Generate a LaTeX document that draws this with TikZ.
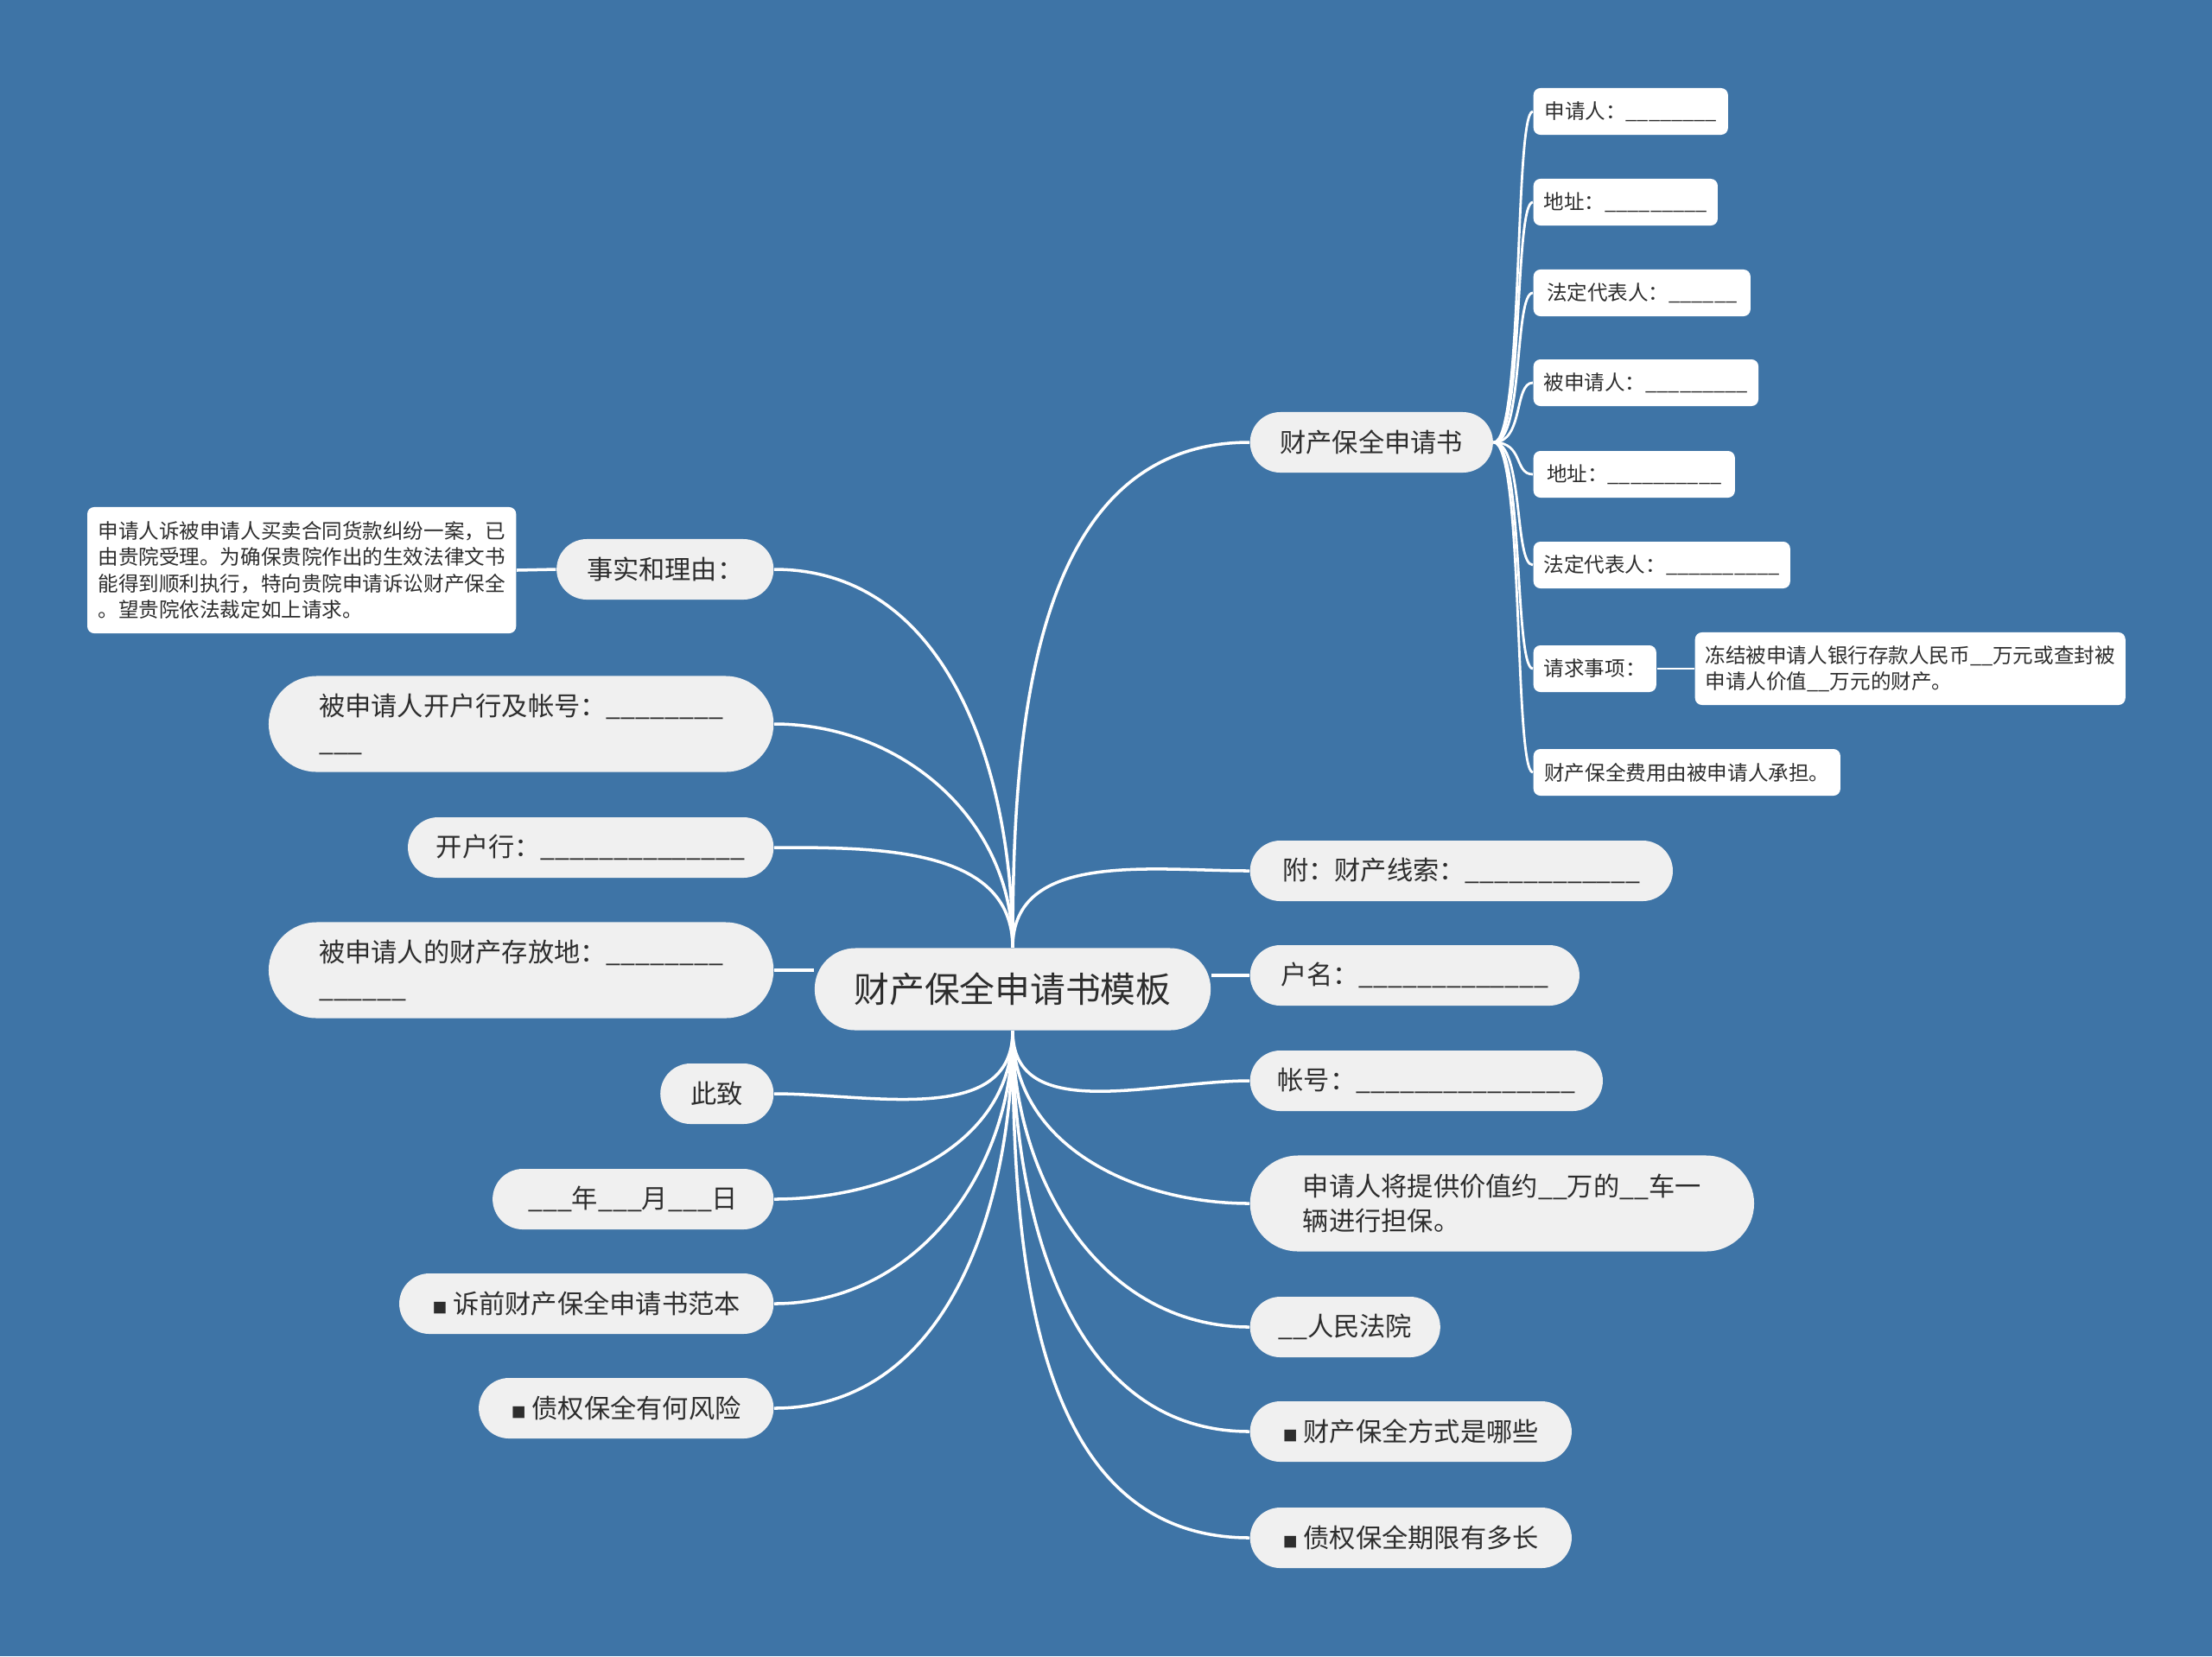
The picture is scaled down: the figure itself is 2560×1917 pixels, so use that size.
\documentclass[tikz,border=0pt]{standalone}
\usepackage{fontspec}
\setmainfont{Noto Sans CJK SC}
\usetikzlibrary{backgrounds}

\definecolor{board}{RGB}{62,116,166}
\definecolor{pill}{RGB}{240,240,240}
\definecolor{ink}{RGB}{45,45,45}

\newcommand{\rootfont}{\fontsize{11.6pt}{14pt}\selectfont}
\newcommand{\topicfont}{\fontsize{8.6pt}{11.6pt}\selectfont}
\newcommand{\itemfont}{\fontsize{6.7pt}{8.7pt}\selectfont}
\newcommand{\sqmark}{{\fontsize{4.8pt}{5pt}\selectfont ■}}

\begin{document}
\begin{tikzpicture}[
  x=0.01cm, y=-0.01cm,
  root/.style={fill=pill, text=ink, rounded corners=0.47cm, minimum height=0.95cm,
               minimum width=4.58cm, font=\rootfont},
  topic/.style={fill=pill, text=ink, rounded corners=0.35cm, minimum height=0.70cm,
                inner xsep=0.3cm, font=\topicfont},
  tall/.style={topic, rounded corners=0.555cm, minimum height=1.11cm, align=left},
  item/.style={fill=white, text=ink, rounded corners=0.08cm, minimum height=0.54cm,
               inner xsep=0.12cm, font=\itemfont},
  note/.style={item, align=left, inner ysep=0.1cm},
  link/.style={draw=white, line width=1pt},
  sublink/.style={draw=white, line width=0.8pt},
  ]

\useasboundingbox (0,0) rectangle (2560,1917);

% ---- Root ------------------------------------------------------------------
\node[root] (root) at (1172,1145) {财产保全申请书模板};

% ---- Right branches --------------------------------------------------------
\node[topic, anchor=west, minimum width=2.81cm] (fin)    at (1446,512)  {财产保全申请书};
\node[topic, anchor=west, minimum width=4.89cm] (clue)   at (1446,1008) {附：财产线索：\_\_\_\_\_\_\_\_\_\_\_\_};
\node[topic, anchor=west, minimum width=3.81cm] (holder) at (1446,1129) {户名：\_\_\_\_\_\_\_\_\_\_\_\_\_};
\node[topic, anchor=west, minimum width=4.08cm] (acct)   at (1446,1251) {帐号：\_\_\_\_\_\_\_\_\_\_\_\_\_\_\_};
\node[tall,  anchor=west, minimum width=5.83cm] (pledge) at (1446,1393) {申请人将提供价值约\_\_万的\_\_车一\\辆进行担保。};
\node[topic, anchor=west, minimum width=2.20cm] (court)  at (1446,1536) {\_\_人民法院};
\node[topic, anchor=west, minimum width=3.72cm] (ways)   at (1446,1657) {\sqmark\ 财产保全方式是哪些};
\node[topic, anchor=west, minimum width=3.72cm] (term)   at (1446,1780) {\sqmark\ 债权保全期限有多长};

% ---- Left branches ---------------------------------------------------------
\node[topic, anchor=east, minimum width=2.51cm] (fact)   at (896,659)  {事实和理由：};
\node[tall,  anchor=east, minimum width=5.84cm] (bank)   at (896,838)  {被申请人开户行及帐号：\_\_\_\_\_\_\_\_\\\_\_\_};
\node[topic, anchor=east, minimum width=4.23cm] (branch) at (896,981)  {开户行：\_\_\_\_\_\_\_\_\_\_\_\_\_\_};
\node[tall,  anchor=east, minimum width=5.84cm] (store)  at (896,1123) {被申请人的财产存放地：\_\_\_\_\_\_\_\_\\\_\_\_\_\_\_};
\node[topic, anchor=east, minimum width=1.31cm] (salute) at (896,1266) {此致};
\node[topic, anchor=east, minimum width=3.25cm] (date)   at (896,1388) {\_\_\_年\_\_\_月\_\_\_日};
\node[topic, anchor=east, minimum width=4.33cm] (sample) at (896,1509) {\sqmark\ 诉前财产保全申请书范本};
\node[topic, anchor=east, minimum width=3.41cm] (risk)   at (896,1630) {\sqmark\ 债权保全有何风险};

% ---- Facts text ------------------------------------------------------------
\node[note, anchor=east, minimum width=4.96cm, minimum height=1.46cm] (facttext) at (598,660)
  {申请人诉被申请人买卖合同货款纠纷一案，已\\由贵院受理。为确保贵院作出的生效法律文书\\能得到顺利执行，特向贵院申请诉讼财产保全\\。望贵院依法裁定如上请求。};

% ---- Application items -----------------------------------------------------
\node[item, anchor=west, minimum width=2.25cm] (applicant)  at (1774,129) {申请人：\_\_\_\_\_\_\_\_};
\node[item, anchor=west, minimum width=2.12cm] (addr1)      at (1774,234) {地址：\_\_\_\_\_\_\_\_\_};
\node[item, anchor=west, minimum width=2.51cm] (rep1)       at (1774,339) {法定代表人：\_\_\_\_\_\_};
\node[item, anchor=west, minimum width=2.59cm] (respondent) at (1774,443) {被申请人：\_\_\_\_\_\_\_\_\_};
\node[item, anchor=west, minimum width=2.33cm] (addr2)      at (1774,549) {地址：\_\_\_\_\_\_\_\_\_\_};
\node[item, anchor=west, minimum width=2.94cm] (rep2)       at (1774,654) {法定代表人：\_\_\_\_\_\_\_\_\_\_};
\node[item, anchor=west, minimum width=1.42cm] (claim)      at (1774,774) {请求事项：};
\node[note, anchor=west, minimum width=4.96cm, minimum height=0.84cm] (claimtext) at (1961,774)
  {冻结被申请人银行存款人民币\_\_万元或查封被\\申请人价值\_\_万元的财产。};
\node[item, anchor=west, minimum width=3.55cm] (fee)        at (1774,894) {财产保全费用由被申请人承担。};

% ---- Connectors ------------------------------------------------------------
\begin{scope}[on background layer]
  \fill[board] (0,0) rectangle (2560,1917);
  \foreach \n in {fin,clue}
    \draw[link] (root.north) to[out=90,in=180] (\n.west);
  \foreach \n in {fact,bank,branch}
    \draw[link] (root.north) to[out=90,in=0] (\n.east);
  \draw[link] (store.east) -- (store.east -| root.west);
  \draw[link] (holder.west) -- (holder.west -| root.east);
  \foreach \n in {acct,pledge,court,ways,term}
    \draw[link] (root.south) to[out=-90,in=180] (\n.west);
  \foreach \n in {salute,date,sample,risk}
    \draw[link] (root.south) to[out=-90,in=0] (\n.east);
  % sub items hang off a common spine
  \foreach \n in {applicant,addr1,rep1,respondent,addr2,rep2,claim,fee}
    \draw[sublink] (fin.east) to[out=0,in=180,out distance=0.35cm,in distance=0.22cm] (\n.west);
  \draw[sublink] (claim.east) -- (claimtext.west);
  \draw[link] (fact.west) -- (facttext.east);
\end{scope}

\end{tikzpicture}
\end{document}
